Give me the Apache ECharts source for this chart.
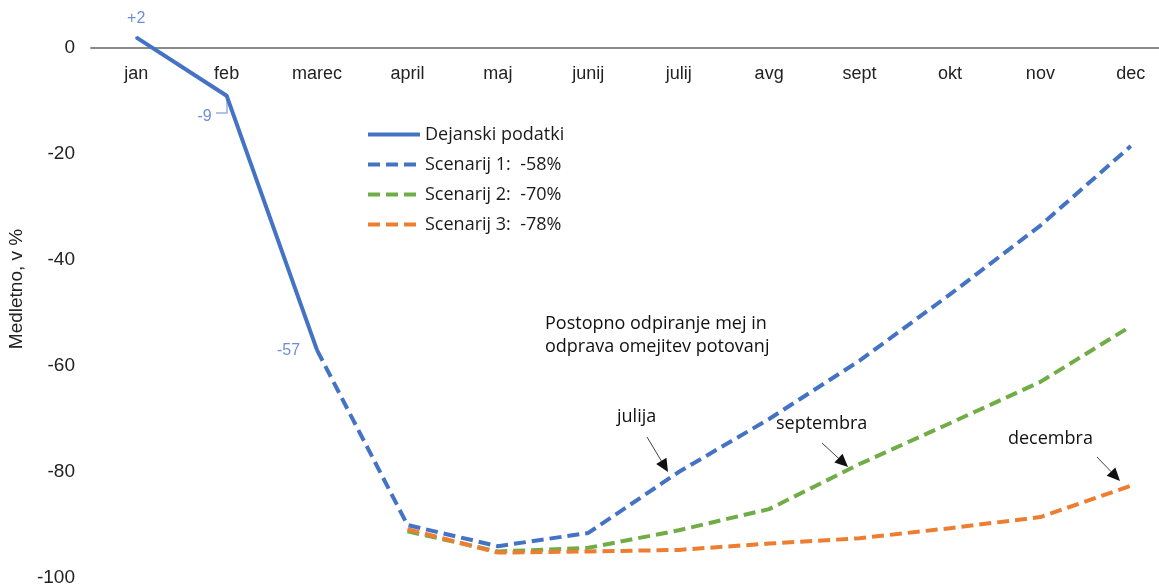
<!DOCTYPE html>
<html>
<head>
<meta charset="utf-8">
<script src="https://cdn.jsdelivr.net/npm/echarts@6/dist/echarts.min.js"></script>
<style>
  html, body { margin: 0; padding: 0; background: #fff; }
  #chart { width: 1159px; height: 587px; }
</style>
</head>
<body>
<div id="chart"></div>
<script>
// meseci
const months = ['jan', 'feb', 'marec', 'april', 'maj', 'junij', 'julij', 'avg', 'sept', 'okt', 'nov', 'dec'];
// dejanski podatki in scenariji (medletno, v %)
const actual = [2, -9, -57, null, null, null, null, null, null, null, null, null];
const actualLabels = ['+2', '-9', '-57'];
const scenario1 = [null, null, -57, -90, -94, -91.5, -80, -70, -59, -46.5, -33.5, -18.5];
const scenario2 = [null, null, null, -91.2, -95, -94.3, -91, -87, -78.5, -70.8, -63, -52.5];
const scenario3 = [null, null, null, -90.8, -95.2, -95, -94.7, -93.5, -92.5, -90.6, -88.5, -82.6];
const names = ['Dejanski podatki', 'Scenarij 1:  -58%', 'Scenarij 2:  -70%', 'Scenarij 3:  -78%'];

const BLUE = '#4472C4', GREEN = '#70AD47', ORANGE = '#ED7D31';

var chart = echarts.init(document.getElementById('chart'));

// puščica za opombe
function arrow(x1, y1, x2, y2) {
    const a = Math.atan2(y2 - y1, x2 - x1), L = 13, W = 6;
    const bx = x2 - L * Math.cos(a), by = y2 - L * Math.sin(a);
    return [
        { type: 'line', shape: { x1: x1, y1: y1, x2: bx, y2: by }, style: { stroke: '#444', lineWidth: 1 } },
        { type: 'polygon', shape: { points: [[x2, y2], [bx + W * Math.sin(a), by - W * Math.cos(a)], [bx - W * Math.sin(a), by + W * Math.cos(a)]] }, style: { fill: '#111' } }
    ];
}

const labelPos = [
    { position: 'top', distance: 10, offset: [0, 0] },
    { position: 'left', distance: 14, offset: [0, 21] },
    { position: 'left', distance: 16, offset: [0, 0] }
];

const annoFont = { fontFamily: 'Open Sans', fontSize: 18, fill: '#111' };

var option = {
    backgroundColor: '#fff',
    animation: false,
    grid: { left: 91, right: -17, top: 48, bottom: 9, outerBoundsMode: 'none', containLabel: false },
    legend: {
        orient: 'vertical',
        left: 361,
        top: 119,
        itemWidth: 52,
        itemHeight: 14,
        itemGap: 9,
        data: names,
        itemStyle: { opacity: 0 },
        lineStyle: { width: 4 },
        textStyle: { fontFamily: 'Open Sans', fontSize: 18, color: '#1a1a1a', lineHeight: 21 }
    },
    xAxis: {
        type: 'category',
        data: months,
        position: 'top',
        boundaryGap: true,
        axisLine: { show: true, onZero: false, lineStyle: { color: '#8a8a8a', width: 2 } },
        axisTick: { show: false },
        axisLabel: { inside: true, fontFamily: 'Liberation Sans', fontSize: 18, color: '#222', margin: 17 },
        splitLine: { show: false }
    },
    yAxis: {
        type: 'value',
        min: -100,
        max: 0,
        interval: 20,
        name: 'Medletno, v %',
        nameLocation: 'middle',
        nameGap: 56,
        nameTextStyle: { fontFamily: 'Liberation Sans', fontSize: 19, color: '#222', padding: [0, 0, 0, 48] },
        axisLine: { show: false },
        axisTick: { show: false },
        splitLine: { show: false },
        axisLabel: { fontFamily: 'Liberation Sans', fontSize: 19, color: '#222', margin: 16 }
    },
    series: [
        {
            name: names[2], type: 'line', data: scenario2, symbol: 'none', clip: false,
            lineStyle: { color: GREEN, width: 4, type: [12, 6] }, itemStyle: { color: GREEN }
        },
        {
            name: names[3], type: 'line', data: scenario3, symbol: 'none', clip: false,
            lineStyle: { color: ORANGE, width: 4, type: [12, 6] }, itemStyle: { color: ORANGE }
        },
        {
            name: names[1], type: 'line', data: scenario1, symbol: 'none', clip: false,
            lineStyle: { color: BLUE, width: 4, type: [12, 6] }, itemStyle: { color: BLUE }
        },
        {
            name: names[0], type: 'line', clip: false,
            symbol: 'circle', symbolSize: 2,
            lineStyle: { color: BLUE, width: 4 }, itemStyle: { color: BLUE },
            data: actual.map(function (v, i) {
                if (i >= actualLabels.length) return v;
                return {
                    value: v,
                    label: Object.assign({
                        show: true, formatter: actualLabels[i],
                        color: '#6f8ed6', fontFamily: 'Liberation Sans', fontSize: 16
                    }, labelPos[i])
                };
            })
        }
    ],
    graphic: [
        { type: 'text', left: 545, top: 312, style: Object.assign({ text: 'Postopno odpiranje mej in\nodprava omejitev potovanj', lineHeight: 23 }, annoFont) },
        { type: 'text', left: 617, top: 408, style: Object.assign({ text: 'julija' }, annoFont) },
        { type: 'text', left: 776, top: 415, style: Object.assign({ text: 'septembra' }, annoFont) },
        { type: 'text', left: 1008, top: 430, style: Object.assign({ text: 'decembra' }, annoFont) },
        { type: 'polyline', shape: { points: [[216, 113], [227, 113], [227, 97]] }, style: { stroke: '#9aaee0', lineWidth: 1.5 } }
    ].concat(arrow(647, 437, 668, 472), arrow(822, 443, 848, 467), arrow(1097, 457, 1120, 481))
};

chart.setOption(option);
window.addEventListener('resize', () => {
    chart.resize();
});
</script>
</body>
</html>
